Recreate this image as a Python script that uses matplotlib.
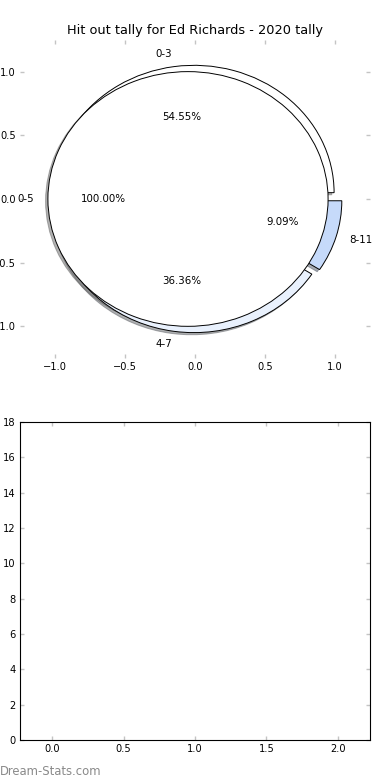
import matplotlib
matplotlib.use("Agg")
import matplotlib.pyplot as plt

# outer ring: hit outs per game, grouped
outer_labels = ["0-3", "4-7", "8-11"]
outer_values = [54.55, 36.36, 9.09]
outer_colors = ["#ffffff", "#e9f1fd", "#c6dafa"]

# inner pie: single bucket
inner_labels = ["0-5"]
inner_values = [100.0]
inner_colors = ["#ffffff"]

title = "Hit out tally for Ed Richards - 2020 tally"
pie_ticks = [-1.0, -0.5, 0.0, 0.5, 1.0]
bar_yticks = [0, 2, 4, 6, 8, 10, 12, 14, 16, 18]
bar_xticks = [0.0, 0.5, 1.0, 1.5, 2.0]

fig, (ax1, ax2) = plt.subplots(2, 1, figsize=(3.9, 7.8), dpi=100)
fig.subplots_adjust(left=0.051, right=0.949, top=0.949, bottom=0.051, hspace=0.2)

wedge_kw = {"edgecolor": "black", "linewidth": 0.7}
text_kw = {"fontsize": 7.4}
shadow_kw = {"ox": -0.012, "oy": -0.012, "shade": 0.6}

ax1.pie(outer_values, labels=outer_labels, colors=outer_colors,
        explode=[0.05] * len(outer_values), autopct="%1.2f%%",
        shadow=shadow_kw, startangle=0, wedgeprops=wedge_kw, textprops=text_kw)
ax1.pie(inner_values, labels=inner_labels, colors=inner_colors,
        explode=[0.05], autopct="%1.2f%%",
        shadow=shadow_kw, startangle=0, wedgeprops=wedge_kw, textprops=text_kw)

ax1.set_aspect("auto")
ax1.set_frame_on(False)
ax1.set_xlim(-1.25, 1.25)
ax1.set_ylim(-1.25, 1.25)
ax1.set_xticks(pie_ticks)
ax1.set_yticks(pie_ticks)
ax1.set_title(title, fontsize=9.3, pad=4)

ax2.set_xlim(-0.225, 2.225)
ax2.set_ylim(0, 18)
ax2.set_xticks(bar_xticks)
ax2.set_yticks(bar_yticks)
for s in ax2.spines.values():
    s.set_linewidth(0.8)

for ax in (ax1, ax2):
    ax.tick_params(direction="in", top=True, right=True, length=3, width=1,
                   color="#c4c4c4", labelsize=7.1, pad=3)

fig.text(0.0, 0.006, "Dream-Stats.com", fontsize=8.4, color="#8a8a8a")

fig.savefig("out.png", dpi=100)
